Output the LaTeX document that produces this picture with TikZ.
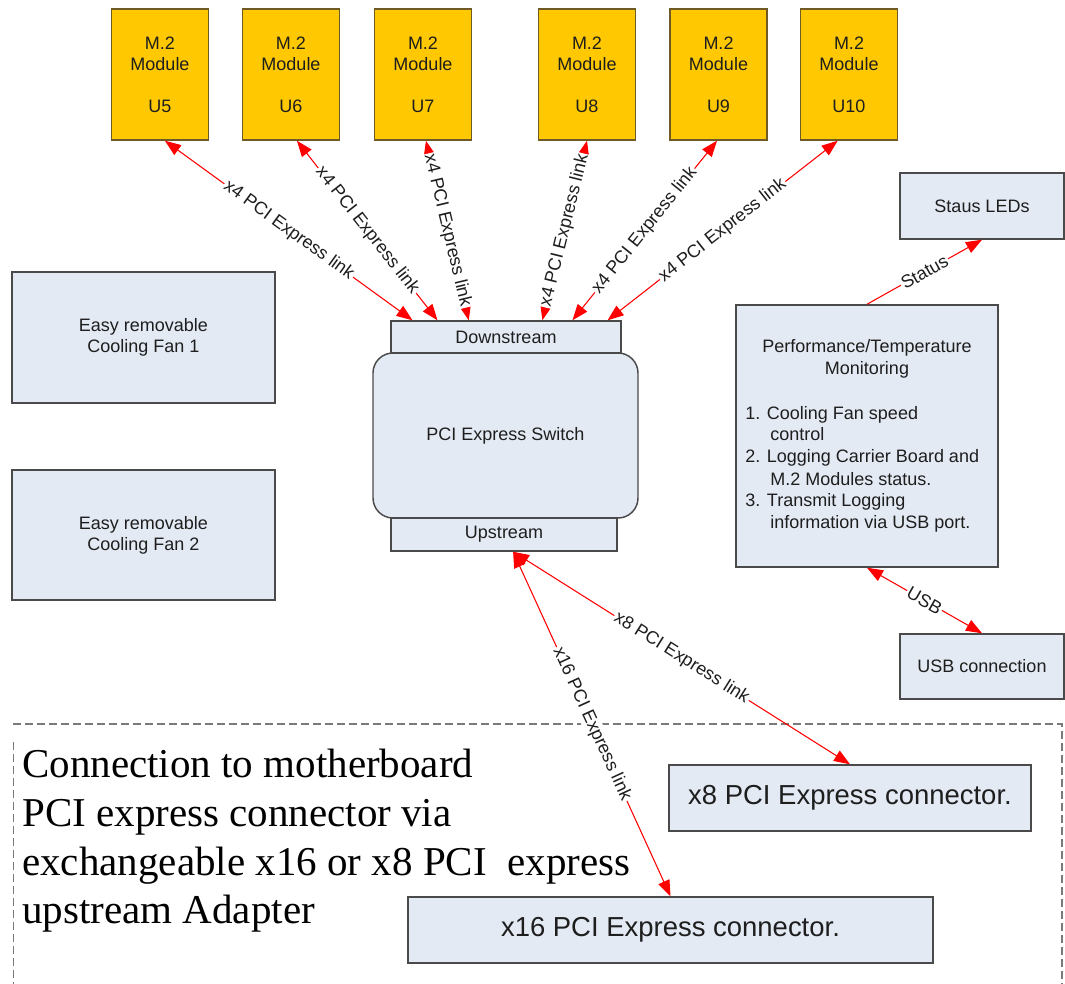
\documentclass[tikz,border=0pt]{standalone}
\usepackage{fontspec}
\setmainfont{Liberation Serif}
\setsansfont{Liberation Sans}
\usetikzlibrary{arrows.meta,calc}
\definecolor{boxfill}{HTML}{E4EAF4}
\definecolor{boxdraw}{HTML}{4A4A4A}
\definecolor{modfill}{HTML}{FFC800}
\definecolor{moddraw}{HTML}{6E5A24}
\definecolor{dashgrey}{HTML}{7A7A7A}
\definecolor{txt}{HTML}{1E1E1E}
\newcommand{\fsz}{\sffamily\fontsize{13.5}{15.75}\selectfont}
\newcommand{\fbig}{\sffamily\fontsize{20.6}{24}\selectfont}
\newcommand{\fserif}{\rmfamily\fontsize{30.75}{36}\selectfont}
\begin{document}
\begin{tikzpicture}[x=0.75pt,y=-0.75pt,
  every node/.style={text=txt},
  box/.style={draw=boxdraw, fill=boxfill, line width=1.1pt, rectangle, inner sep=0pt, font=\fsz, align=center},
  modbox/.style={draw=moddraw, fill=modfill, line width=1.1pt, rectangle, inner sep=0pt, minimum width=72.75pt, minimum height=98.25pt, font=\fsz, align=center},
  tipstyle/.style={},
  link/.style={draw=red, line width=0.8pt, {Triangle[length=12pt,width=9pt]}-{Triangle[length=12pt,width=9pt]}},
  linkone/.style={draw=red, line width=0.8pt, -{Triangle[length=12pt,width=9pt]}},
  lbl/.style={font=\fsz, fill=white, inner sep=1pt, sloped, midway},
  plain/.style={font=\fsz, inner sep=0pt},
  serif/.style={font=\fserif, inner sep=0pt, text=black, anchor=base west},
]
\useasboundingbox (0,0) rectangle (1065,984);

% M.2 modules
\node[modbox] (u5)  at (160,74.5)   {M.2\\Module\\[15.75pt]U5};
\node[modbox] (u6)  at (291,74.5)   {M.2\\Module\\[15.75pt]U6};
\node[modbox] (u7)  at (423,74.5)   {M.2\\Module\\[15.75pt]U7};
\node[modbox] (u8)  at (587,74.5)   {M.2\\Module\\[15.75pt]U8};
\node[modbox] (u9)  at (718.5,74.5) {M.2\\Module\\[15.75pt]U9};
\node[modbox] (u10) at (849,74.5)   {M.2\\Module\\[15.75pt]U10};

% fans
\node[box, minimum width=197.25pt, minimum height=98.25pt] (fan1) at (143.5,337.5) {Easy removable\\Cooling Fan 1};
\node[box, minimum width=197.25pt, minimum height=97.5pt] (fan2) at (143.5,535) {Easy removable\\Cooling Fan 2};

% switch
\node[box, rounded corners=15pt, minimum width=198.75pt, minimum height=123.75pt] (sw) at (505.5,435.5) {PCI Express Switch};
\node[box, minimum width=172.5pt, minimum height=24pt] (down) at (506,337) {Downstream};
\node[box, minimum width=169.5pt, minimum height=24.75pt] (up) at (504,534.5) {Upstream};

% right side
\node[box, minimum width=123pt, minimum height=49.5pt] (leds) at (982,206) {Staus LEDs};
\node[box, minimum width=196.5pt, minimum height=196.5pt] (perf) at (867,436) {};
\node[plain, anchor=base] (pt1) at (867,353) {Performance/Temperature};
\node[plain, anchor=base] (pt2) at (867,375) {Monitoring};
\node[plain, anchor=base west] (l1) at (745,420) {1. Cooling Fan speed};
\node[plain, anchor=base west] (l2) at (770,441) {control};
\node[plain, anchor=base west] (l3) at (745,463) {2. Logging Carrier Board and};
\node[plain, anchor=base west] (l4) at (770,485) {M.2 Modules status.};
\node[plain, anchor=base west] (l5) at (745,507) {3. Transmit Logging};
\node[plain, anchor=base west] (l6) at (770,528) {information via USB port.};
\node[box, minimum width=123pt, minimum height=48.75pt] (usb) at (982,666.5) {USB connection};

% dashed adapter region
\draw[dashgrey, line width=1.5pt, dash pattern=on 6pt off 3pt] (13,724) -- (1062,724) -- (1062,984);
\draw[dashgrey, line width=0.75pt, dash pattern=on 6pt off 3pt] (13,742) -- (13,984);

\node[serif] (t1) at (22,777) {Connection to motherboard};
\node[serif] (t2) at (22,826) {PCI express connector via};
\node[serif] (t3) at (22,875) {exchangeable x16 or x8 PCI\ \ express};
\node[serif] (t4) at (22,923) {upstream Adapter};

\node[box, font=\fbig, minimum width=271.5pt, minimum height=49.5pt] (x8c) at (850,798) {x8 PCI Express connector.};
\node[box, font=\fbig, minimum width=393.75pt, minimum height=49.5pt] (x16c) at (670.5,930) {x16 PCI Express connector.};

% links to modules
\draw[link] ($(u5.south west)!0.55!(u5.south east)$) -- node[lbl]{x4 PCI Express link} ($(down.north west)!0.096!(down.north east)$);
\draw[link] ($(u6.south west)!0.56!(u6.south east)$) -- node[lbl]{x4 PCI Express link} ($(down.north west)!0.204!(down.north east)$);
\draw[link] ($(u7.south west)!0.53!(u7.south east)$) -- node[lbl]{x4 PCI Express link} ($(down.north west)!0.339!(down.north east)$);
\draw[link] ($(u8.south west)!0.50!(u8.south east)$) -- node[lbl]{x4 PCI Express link} ($(down.north west)!0.657!(down.north east)$);
\draw[link] ($(u9.south west)!0.485!(u9.south east)$) -- node[lbl]{x4 PCI Express link} ($(down.north west)!0.787!(down.north east)$);
\draw[link] ($(u10.south west)!0.385!(u10.south east)$) -- node[lbl]{x4 PCI Express link} ($(down.north west)!0.939!(down.north east)$);

% status / usb
\draw[linkone] (perf.north) -- node[lbl]{Status} (leds.south);
\draw[link] (perf.south) -- node[lbl]{USB} (usb.north);

% upstream links
\coordinate (upt) at ($(up.south west)!0.54!(up.south east)$);
\draw[link] (upt) -- node[lbl]{x8 PCI Express link} (x8c.north);
\draw[link] (upt) -- node[lbl]{x16 PCI Express link} (x16c.north);
\end{tikzpicture}
\end{document}
